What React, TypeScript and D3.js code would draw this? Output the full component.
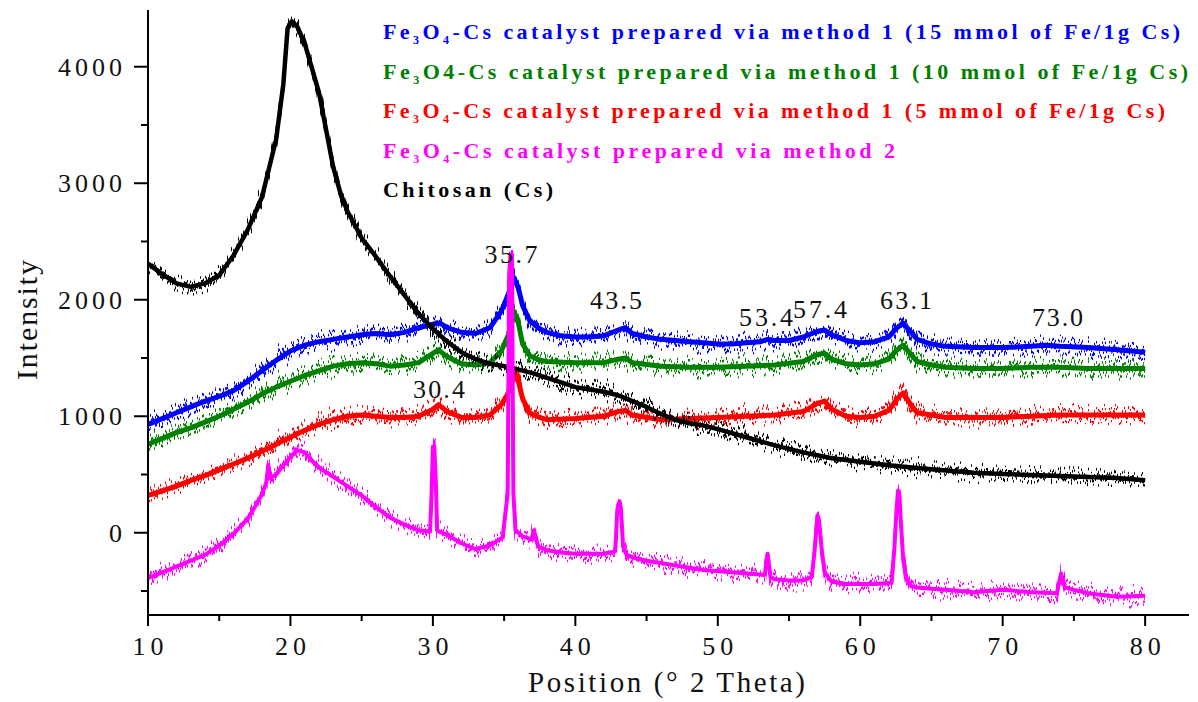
import React from 'react';
import * as d3 from 'd3';

const W = 1198;
const H = 702;

type P = [number, number];

// Chitosan (Cs) – black
const chitosan: P[] = [
  [10, 2310], [11, 2220], [12, 2140], [13, 2110], [14, 2140], [15, 2210], [16, 2380],
  [17, 2600], [18, 2880], [19, 3380], [19.5, 3850], [19.8, 4330], [20.1, 4390], [20.5, 4340],
  [21, 4200], [21.5, 3990], [22, 3780], [22.5, 3460], [23, 3140], [23.5, 2920], [24, 2760],
  [25, 2530], [26, 2370], [27, 2200], [28, 2040], [29, 1880], [30, 1750], [31, 1640],
  [32, 1550], [33, 1490], [34, 1450], [35, 1430], [36, 1400], [37, 1370], [38, 1330],
  [39, 1290], [40, 1250], [41, 1230], [42, 1210], [43, 1180], [44, 1130], [45, 1080],
  [46, 1020], [47, 970], [48, 940], [49, 920], [50, 890], [52, 820], [54, 750], [56, 690],
  [58, 640], [60, 610], [62, 580], [64, 555], [66, 535], [68, 515], [70, 505], [72, 495],
  [74, 487], [76, 478], [78, 470], [80, 450],
];

// Method 1, 15 mmol – blue
const method1_15: P[] = [
  [10, 930], [11, 980], [12, 1030], [13, 1080], [14, 1130], [15, 1170], [16, 1220],
  [17, 1300], [18, 1390], [19, 1480], [20, 1560], [21, 1610], [22, 1640], [23, 1660],
  [24, 1680], [25, 1700], [26, 1710], [27, 1700], [28, 1720], [29, 1760], [30, 1790],
  [30.5, 1800], [31, 1760], [32, 1720], [33, 1710], [34, 1760], [34.8, 1900], [35.3, 2050],
  [35.7, 2190], [36.0, 2100], [36.3, 1950], [36.8, 1820], [37.5, 1750], [38, 1720],
  [39, 1690], [40, 1680], [41, 1680], [42, 1690], [43, 1740], [43.5, 1760], [44, 1710],
  [45, 1680], [46, 1660], [47, 1650], [48, 1640], [49, 1630], [50, 1620], [51, 1620],
  [52, 1630], [53, 1640], [53.5, 1660], [54, 1650], [55, 1650], [56, 1680], [57, 1730],
  [57.5, 1740], [58, 1700], [59, 1650], [60, 1630], [61, 1640], [62, 1680], [62.5, 1750],
  [63, 1800], [63.5, 1730], [64, 1660], [65, 1620], [66, 1600], [68, 1590], [70, 1590],
  [72, 1600], [73, 1610], [74, 1600], [76, 1590], [78, 1570], [80, 1550],
];

// Method 1, 10 mmol – green
const method1_10: P[] = [
  [10, 760], [11, 810], [12, 860], [13, 900], [14, 950], [15, 1000], [16, 1060],
  [17, 1120], [18, 1190], [19, 1250], [20, 1300], [21, 1350], [22, 1390], [23, 1430],
  [24, 1450], [25, 1460], [26, 1450], [27, 1430], [28, 1440], [29, 1460], [30, 1540],
  [30.4, 1570], [31, 1510], [32, 1450], [33, 1440], [34, 1460], [34.8, 1560], [35.3, 1700],
  [35.7, 1900], [36.0, 1800], [36.3, 1620], [36.8, 1520], [37.5, 1480], [38, 1470],
  [40, 1460], [42, 1460], [43, 1490], [43.5, 1500], [44, 1460], [46, 1430], [48, 1420],
  [50, 1420], [52, 1430], [54, 1440], [56, 1470], [57, 1530], [57.5, 1540], [58, 1490],
  [59, 1450], [60, 1440], [61, 1450], [62, 1490], [62.5, 1560], [63, 1610], [63.5, 1540],
  [64, 1470], [65, 1440], [66, 1420], [68, 1410], [70, 1410], [72, 1420], [74, 1420],
  [76, 1410], [78, 1410], [80, 1410],
];

// Method 1, 5 mmol – red
const method1_5: P[] = [
  [10, 320], [11, 360], [12, 400], [13, 450], [14, 490], [15, 540], [16, 590], [17, 640],
  [18, 700], [19, 760], [20, 820], [21, 880], [22, 930], [23, 970], [24, 1000], [25, 1010],
  [26, 1000], [27, 990], [28, 990], [29, 1000], [30, 1060], [30.4, 1100], [31, 1040],
  [32, 990], [33, 990], [34, 1010], [34.8, 1100], [35.3, 1200], [35.7, 1400], [36.0, 1300],
  [36.3, 1150], [36.8, 1030], [37.5, 990], [38, 970], [40, 980], [42, 1000], [43, 1040],
  [43.5, 1050], [44, 1010], [46, 970], [48, 980], [50, 990], [52, 1000], [54, 1010],
  [56, 1040], [57, 1110], [57.5, 1130], [58, 1060], [59, 1000], [60, 990], [61, 1000],
  [62, 1050], [62.6, 1150], [63, 1200], [63.5, 1110], [64, 1030], [65, 1010], [66, 990],
  [68, 990], [70, 990], [72, 1000], [74, 1010], [76, 1010], [78, 1010], [80, 1010],
];

// Method 2 – magenta
const method2: P[] = [
  [10, -390], [11, -340], [12, -290], [13, -240], [14, -190], [15, -110], [16, -10],
  [17, 120], [17.5, 220], [18, 330], [18.3, 430], [18.45, 580], [18.6, 470], [19, 500],
  [19.5, 580], [20, 650], [20.5, 710], [21, 690], [21.5, 620], [22, 560], [23, 480],
  [24, 400], [25, 320], [26, 220], [27, 130], [28, 70], [29, 20], [29.8, 10], [29.9, 300],
  [30.0, 740], [30.1, 740], [30.2, 450], [30.3, 20], [31, -20], [32, -90], [33, -140],
  [34, -110], [34.9, -40], [35.25, 340], [35.35, 2200], [35.45, 2390], [35.55, 2390],
  [35.65, 340], [35.8, 20], [36.3, -30], [36.9, -60], [37.1, 20], [37.4, -120], [38, -150],
  [39, -170], [40, -180], [41, -180], [42, -180], [42.8, -160], [42.95, 200], [43.1, 270],
  [43.2, 210], [43.35, -120], [43.6, -190], [44, -210], [45, -240], [46, -260], [47, -280],
  [48, -300], [49, -320], [50, -330], [51, -340], [52, -350], [53.3, -360], [53.5, -180],
  [53.7, -380], [54, -400], [55, -410], [56, -410], [56.6, -380], [56.8, -150], [57.0, 150],
  [57.1, 110], [57.3, -150], [57.5, -340], [58, -420], [59, -440], [60, -440], [61, -440],
  [62.2, -430], [62.4, -130], [62.55, 200], [62.65, 360], [62.75, 330], [62.85, 100],
  [63.0, -200], [63.2, -380], [63.6, -460], [64, -470], [65, -480], [66, -490], [68, -510],
  [70, -490], [72, -510], [73.8, -520], [74.1, -350], [74.4, -470], [75, -490], [76, -520],
  [78, -550], [80, -540],
];

const xTicks = [10, 20, 30, 40, 50, 60, 70, 80];
const xMinorTicks = [15, 25, 35, 45, 55, 65, 75];
const yTicks = [0, 1000, 2000, 3000, 4000];
const yMinorTicks = [-500, 500, 1500, 2500, 3500];

const peakLabels = [
  { text: '35.7', x: 35.49, y: 2315, w: 53 },
  { text: '43.5', x: 42.86, y: 1920, w: 52 },
  { text: '30.4', x: 30.43, y: 1156, w: 52 },
  { text: '53.4', x: 53.39, y: 1774, w: 54 },
  { text: '57.4', x: 57.18, y: 1843, w: 54 },
  { text: '63.1', x: 63.22, y: 1920, w: 52 },
  { text: '73.0', x: 73.85, y: 1774, w: 51 },
];

const seriesList = [
  { name: 'm15', data: method1_15, color: '#0000ff', base: 5 },
  { name: 'm10', data: method1_10, color: '#008000', base: 5 },
  { name: 'm5', data: method1_5, color: '#ff0000', base: 5 },
  { name: 'cs', data: chitosan, color: '#000000', base: 4.5 },
  { name: 'm2', data: method2, color: '#ff00ff', base: 4 },
];

const SERIF = '"Liberation Serif", "Times New Roman", "DejaVu Serif", serif';

function JitterFilter({ id, seed, freq, scale }: { id: string; seed: number; freq: string; scale: number }) {
  return (
    <filter id={id} filterUnits="userSpaceOnUse" x={0} y={0} width={W} height={H} colorInterpolationFilters="sRGB">
      <feTurbulence type="fractalNoise" baseFrequency={freq} numOctaves={1} seed={seed} result="n" />
      <feComponentTransfer in="n" result="m">
        <feFuncR type="linear" slope={0} intercept={0.5} />
        <feFuncA type="linear" slope={0} intercept={1} />
      </feComponentTransfer>
      <feDisplacementMap in="SourceGraphic" in2="m" scale={scale} xChannelSelector="R" yChannelSelector="G" />
    </filter>
  );
}

export default function App() {
  const x = d3.scaleLinear().domain([10, 83.08]).range([148, 1189]);
  const y = d3.scaleLinear().domain([-706, 4487]).range([615, 10]);
  const line = d3
    .line<P>()
    .x((d) => x(d[0]))
    .y((d) => y(d[1]));

  const legendRows = [
    { color: '#0000ff', parts: [['Fe', 0], ['3', 1], ['O', 0], ['4', 1], ['-Cs catalyst prepared via method 1 (15 mmol of Fe/1g Cs)', 0]], end: 1180 },
    { color: '#008000', parts: [['Fe', 0], ['3', 1], ['O4-Cs catalyst prepared via method 1 (10 mmol of Fe/1g Cs)', 0]], end: 1188 },
    { color: '#ff0000', parts: [['Fe', 0], ['3', 1], ['O', 0], ['4', 1], ['-Cs catalyst prepared via method 1 (5 mmol of Fe/1g Cs)', 0]], end: 1165 },
    { color: '#ff00ff', parts: [['Fe', 0], ['3', 1], ['O', 0], ['4', 1], ['-Cs catalyst prepared via method 2', 0]], end: 895 },
    { color: '#000000', parts: [['Chitosan (Cs)', 0]], end: 553 },
  ] as { color: string; parts: [string, number][]; end: number }[];

  return (
    <div style={{ position: 'absolute', left: 0, top: 0 }}>
      <svg width={W} height={H} viewBox={`0 0 ${W} ${H}`} style={{ display: 'block', background: '#fff' }}>
        <defs>
          <JitterFilter id="jitA" seed={7} freq="0.55 0.004" scale={44} />
          <JitterFilter id="jitB" seed={23} freq="0.7 0.004" scale={36} />
        </defs>

        {seriesList.map((s) => {
          const d = line(s.data) || '';
          return (
            <g key={s.name}>
              <path d={d} fill="none" stroke={s.color} strokeWidth={s.base} strokeLinejoin="round" />
              <path d={d} fill="none" stroke={s.color} strokeWidth={2.4} filter="url(#jitA)" />
              <path d={d} fill="none" stroke={s.color} strokeWidth={2.4} filter="url(#jitB)" />
            </g>
          );
        })}

        {/* axes */}
        <line x1={148} x2={148} y1={y(4487)} y2={616} stroke="#000" strokeWidth={2} />
        <line x1={147} x2={1189} y1={615} y2={615} stroke="#000" strokeWidth={2} />
        {yTicks.map((t) => (
          <g key={'y' + t}>
            <line x1={134} x2={148} y1={y(t)} y2={y(t)} stroke="#000" strokeWidth={2} />
            <text x={122} y={y(t)} dy="0.35em" textAnchor="end" fontFamily={SERIF} fontSize={26}
              textLength={t === 0 ? 16 : 64} lengthAdjust="spacing" fill="#111">{t}</text>
          </g>
        ))}
        {yMinorTicks.map((t) => (
          <line key={'ym' + t} x1={141} x2={148} y1={y(t)} y2={y(t)} stroke="#000" strokeWidth={2} />
        ))}
        {xTicks.map((t) => (
          <g key={'x' + t}>
            <line x1={x(t)} x2={x(t)} y1={615} y2={626} stroke="#000" strokeWidth={2} />
            <text x={x(t)} y={655} textAnchor="middle" fontFamily={SERIF} fontSize={26}
              textLength={31} lengthAdjust="spacing" fill="#111">{t}</text>
          </g>
        ))}
        {xMinorTicks.map((t) => (
          <line key={'xm' + t} x1={x(t)} x2={x(t)} y1={615} y2={621} stroke="#000" strokeWidth={2} />
        ))}

        <text x={528} y={692} fontFamily={SERIF} fontSize={29} textLength={277} lengthAdjust="spacing" fill="#111">
          Position (° 2 Theta)
        </text>
        <text transform="translate(37,380) rotate(-90)" x={0} y={0} fontFamily={SERIF} fontSize={30}
          textLength={120} lengthAdjust="spacing" fill="#111">
          Intensity
        </text>

        {peakLabels.map((p) => (
          <text key={p.text} x={x(p.x)} y={y(p.y)} textAnchor="middle" fontFamily={SERIF} fontSize={26}
            textLength={p.w} lengthAdjust="spacing" fill="#111">{p.text}</text>
        ))}

        {legendRows.map((r, i) => (
          <text key={i} x={383} y={39 + i * 39.5} fontFamily={SERIF} fontWeight="bold" fontSize={22}
            fill={r.color} textLength={r.end - 383} lengthAdjust="spacing">
            {r.parts.map(([t, sub], j) =>
              sub ? (
                <tspan key={j} fontSize={12} dy={5}>{t}</tspan>
              ) : (
                <tspan key={j} dy={j > 0 && r.parts[j - 1][1] ? -5 : 0}>{t}</tspan>
              )
            )}
          </text>
        ))}
      </svg>
    </div>
  );
}
